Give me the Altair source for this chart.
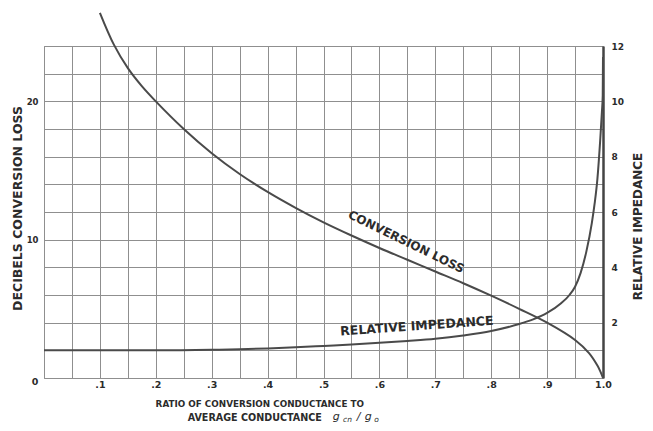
import altair as alt
import pandas as pd

# ---- data ----
ratio_loss = [0.10, 0.125, 0.15, 0.175, 0.20, 0.25, 0.30, 0.35, 0.40, 0.45, 0.50, 0.55,
              0.60, 0.65, 0.70, 0.75, 0.80, 0.85, 0.90, 0.95, 0.975, 0.99, 0.995, 1.00]
loss_db = [26.4, 24.1, 22.4, 21.1, 20.0, 18.0, 16.25, 14.75, 13.45, 12.3, 11.25, 10.3,
           9.4, 8.55, 7.7, 6.85, 5.95, 5.0, 4.0, 2.75, 1.8, 0.9, 0.5, 0.0]

ratio_imp = [0.0, 0.1, 0.2, 0.3, 0.35, 0.4, 0.45, 0.5, 0.55, 0.6, 0.65, 0.7, 0.75, 0.8,
             0.85, 0.875, 0.9, 0.925, 0.94, 0.95, 0.96, 0.97, 0.98, 0.985, 0.99, 0.995,
             0.998, 0.9995, 1.0]
impedance = [1.0, 1.0, 1.0, 1.02, 1.04, 1.07, 1.11, 1.16, 1.21, 1.27, 1.34, 1.42, 1.54, 1.7,
             1.95, 2.12, 2.35, 2.7, 3.0, 3.3, 3.8, 4.55, 5.6, 6.3, 7.2, 8.6,
             9.6, 10.2, 11.6]

x_ticks = [round(i * 0.05, 2) for i in range(21)]
db_ticks = list(range(0, 25, 2))
imp_ticks = list(range(0, 13))

curve_labels = ["CONVERSION LOSS", "RELATIVE IMPEDANCE"]
curve_label_x = [0.648, 0.667]
curve_label_db = [9.85, 3.75]

xtitle_lines = ["RATIO OF CONVERSION CONDUCTANCE TO", "AVERAGE CONDUCTANCE"]
xtitle_x = [0.386, 0.377]
xtitle_db = [-1.85, -2.9]

formula_parts = ["g", "cn", "/", "g", "o"]
formula_x = [0.523, 0.543, 0.563, 0.580, 0.595]
formula_db = [-2.8, -3.0, -2.8, -2.8, -3.0]
formula_size = [11, 7.5, 11, 11, 7.5]

FONT = "DejaVu Sans"
INK = "#2b2b2b"
CURVE = "#4a4a4a"
GRID = "#8f8f8f"

loss_df = pd.DataFrame({"ratio": ratio_loss, "db": loss_db})
imp_df = pd.DataFrame({"ratio": ratio_imp, "imp": impedance})

x_enc = alt.X(
    "ratio:Q",
    scale=alt.Scale(domain=[0, 1], nice=False, zero=False),
    axis=alt.Axis(
        values=x_ticks, grid=True, gridColor=GRID, gridWidth=1, gridOpacity=1,
        ticks=False, domain=False, title=None, labelOverlap=False, labelFlush=False,
        labelPadding=1, labelFontSize=9.5, labelFont=FONT, labelFontWeight="bold",
        labelColor=INK,
        labelExpr="(abs(datum.value*10 - round(datum.value*10)) < 0.001 && datum.value > 0) ? (datum.value >= 0.999 ? '1.0' : '.' + round(datum.value*10)) : ''",
    ),
)

y_left = alt.Y(
    "db:Q",
    scale=alt.Scale(domain=[0, 24], nice=False, zero=False),
    axis=alt.Axis(
        values=db_ticks, grid=True, gridColor=GRID, gridWidth=1, gridOpacity=1,
        ticks=False, domain=False, labelOverlap=False,
        labelPadding=6, labelFontSize=8.5, labelFont=FONT, labelFontWeight="bold",
        labelColor=INK,
        labelExpr="(datum.value == 10 || datum.value == 20) ? datum.label : ''",
        title="DECIBELS CONVERSION LOSS", titleFont=FONT, titleFontSize=12.5,
        titleFontWeight="bold", titleColor=INK, titleAngle=270,
        titleX=-27, titleY=162, titleAlign="center", titleBaseline="middle",
    ),
)

loss_line = alt.Chart(loss_df).mark_line(
    color=CURVE, strokeWidth=2, interpolate="catmull-rom"
).encode(x=x_enc, y=y_left)

lbl_df0 = pd.DataFrame({"ratio": [curve_label_x[0]], "db": [curve_label_db[0]], "t": [curve_labels[0]]})
lbl_df1 = pd.DataFrame({"ratio": [curve_label_x[1]], "db": [curve_label_db[1]], "t": [curve_labels[1]]})

lbl0 = alt.Chart(lbl_df0).mark_text(
    font=FONT, fontSize=12, fontWeight="bold", color=INK, angle=26,
    align="center", baseline="middle"
).encode(x=x_enc, y=y_left, text="t:N")

lbl1 = alt.Chart(lbl_df1).mark_text(
    font=FONT, fontSize=12.5, fontWeight="bold", color=INK, angle=356,
    align="center", baseline="middle"
).encode(x=x_enc, y=y_left, text="t:N")

xt_df = pd.DataFrame({"ratio": xtitle_x[:1], "db": xtitle_db[:1], "t": xtitle_lines[:1]})
xt = alt.Chart(xt_df).mark_text(
    font=FONT, fontSize=8.8, fontWeight="bold", color=INK,
    align="center", baseline="middle"
).encode(x=x_enc, y=y_left, text="t:N")

xt2_df = pd.DataFrame({"ratio": xtitle_x[1:], "db": xtitle_db[1:], "t": xtitle_lines[1:]})
xt2 = alt.Chart(xt2_df).mark_text(
    font=FONT, fontSize=9.6, fontWeight="bold", color=INK,
    align="center", baseline="middle"
).encode(x=x_enc, y=y_left, text="t:N")

fm_df = pd.DataFrame({"ratio": formula_x, "db": formula_db, "t": formula_parts, "s": formula_size})
fm = alt.Chart(fm_df).mark_text(
    font=FONT, fontStyle="italic", color=INK, align="center", baseline="middle"
).encode(x=x_enc, y=y_left, text="t:N", size=alt.Size("s:Q", scale=None, legend=None))

origin_df = pd.DataFrame({"ratio": [-0.016], "db": [-0.3], "t": ["0"]})
origin = alt.Chart(origin_df).mark_text(
    font=FONT, fontSize=9.5, fontWeight="bold", color=INK, align="center", baseline="middle"
).encode(x=x_enc, y=y_left, text="t:N")

left_group = alt.layer(loss_line, lbl0, lbl1, xt, xt2, fm, origin)

imp_line = alt.Chart(imp_df).mark_line(
    color=CURVE, strokeWidth=2, interpolate="monotone"
).encode(
    x=x_enc,
    y=alt.Y(
        "imp:Q",
        scale=alt.Scale(domain=[0, 12], nice=False, zero=False),
        axis=alt.Axis(
            orient="right", values=imp_ticks, grid=False, ticks=False,
            domain=True, domainColor="#444444", domainWidth=2.5,
            labelOverlap=False, labelPadding=8, labelFontSize=9, labelFont=FONT,
            labelFontWeight="bold", labelColor=INK,
            labelExpr="(datum.value > 0 && datum.value % 2 == 0) ? datum.label : ''",
            title="RELATIVE IMPEDANCE", titleFont=FONT, titleFontSize=12,
            titleFontWeight="bold", titleColor=INK, titleAngle=270,
            titleX=34, titleY=180, titleAlign="center", titleBaseline="middle",
        ),
    ),
)

chart = alt.layer(left_group, imp_line).resolve_scale(y="independent").properties(
    width=559, height=332,
    autosize=alt.AutoSizeParams(type="none"),
    padding={"left": 36, "top": 38, "right": 40, "bottom": 45},
    background="white",
).configure_view(stroke=GRID, strokeWidth=1)

chart.save("out.html", embed_options={"renderer": "svg", "actions": False})
